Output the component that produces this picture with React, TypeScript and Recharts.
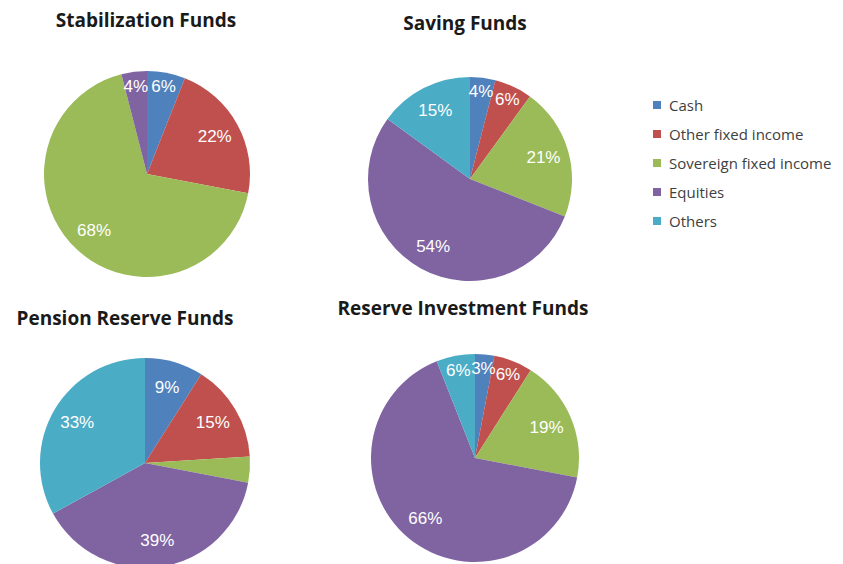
import React from 'react';
import { PieChart, Pie, Cell } from 'recharts';

const categories = ['Cash', 'Other fixed income', 'Sovereign fixed income', 'Equities', 'Others'];
const colors = ['#4F81BD', '#C0504D', '#9BBB59', '#8064A2', '#4BACC6'];

const fundTitles = ['Stabilization Funds', 'Saving Funds', 'Pension Reserve Funds', 'Reserve Investment Funds'];
const stabilizationValues = [6, 22, 68, 4, 0];
const savingValues = [4, 6, 21, 54, 15];
const pensionValues = [9, 15, 4, 39, 33];
const reserveValues = [3, 6, 19, 66, 6];
// slices whose label is not shown in the original
const hiddenLabels = [[], [], ['Sovereign fixed income'], []];

const fundValues = [stabilizationValues, savingValues, pensionValues, reserveValues];

// layout: pie centers and title positions
const layout = [
    { cx: 147, cy: 174, r: 103, tx: 146, ty: 20 },
    { cx: 470, cy: 179, r: 102, tx: 465, ty: 23 },
    { cx: 145, cy: 463, r: 105, tx: 125, ty: 318 },
    { cx: 475, cy: 458, r: 104, tx: 463, ty: 308 },
];

const RADIAN = Math.PI / 180;

const makeLabel = (hidden: string[]) => (props: any) => {
    const { cx, cy, midAngle, outerRadius, percent, value, name } = props;
    if (!value || hidden.includes(name)) return null;
    const k = percent < 0.08 ? 0.86 : 0.75;
    const r = outerRadius * k;
    const x = cx + r * Math.cos(-midAngle * RADIAN);
    const y = cy + r * Math.sin(-midAngle * RADIAN);
    return (
        <text
            x={x}
            y={y}
            fill="#ffffff"
            textAnchor="middle"
            dominantBaseline="central"
            fontFamily="'Liberation Sans', Arial, sans-serif"
            fontSize={17}
        >
            {`${value}%`}
        </text>
    );
};

const App = () => {
    return (
        <div style={{ position: 'absolute', left: 0, top: 0, width: 843, height: 564, background: '#fff', overflow: 'hidden' }}>
            <PieChart width={843} height={564} margin={{ top: 0, right: 0, bottom: 0, left: 0 }}>
                {fundValues.map((vals, i) => {
                    const data = categories.map((c, j) => ({ name: c, value: vals[j] }));
                    const p = layout[i];
                    return (
                        <Pie
                            key={fundTitles[i]}
                            data={data}
                            dataKey="value"
                            nameKey="name"
                            cx={p.cx}
                            cy={p.cy}
                            outerRadius={p.r}
                            startAngle={90}
                            endAngle={-270}
                            stroke="none"
                            labelLine={false}
                            label={makeLabel(hiddenLabels[i])}
                            isAnimationActive={false}
                        >
                            {data.map((d, j) => (
                                <Cell key={`cell-${i}-${j}`} fill={colors[j]} />
                            ))}
                        </Pie>
                    );
                })}
            </PieChart>

            {/* Titles */}
            {fundTitles.map((t, i) => (
                <div
                    key={t}
                    style={{
                        position: 'absolute',
                        left: layout[i].tx - 150,
                        top: layout[i].ty - 13,
                        width: 300,
                        textAlign: 'center',
                        fontFamily: "'Open Sans', sans-serif",
                        fontWeight: 700,
                        fontSize: 19,
                        lineHeight: '26px',
                        color: '#1a1a1a',
                    }}
                >
                    {t}
                </div>
            ))}

            {/* Legend */}
            <div style={{ position: 'absolute', left: 653, top: 90, fontFamily: "'Open Sans', sans-serif", fontSize: 15, color: '#404040' }}>
                {categories.map((c, j) => (
                    <div key={c} style={{ display: 'flex', alignItems: 'center', height: 29 }}>
                        <span style={{ width: 8, height: 8, background: colors[j], marginRight: 8, display: 'inline-block' }} />
                        <span>{c}</span>
                    </div>
                ))}
            </div>
        </div>
    );
};

export default App;
